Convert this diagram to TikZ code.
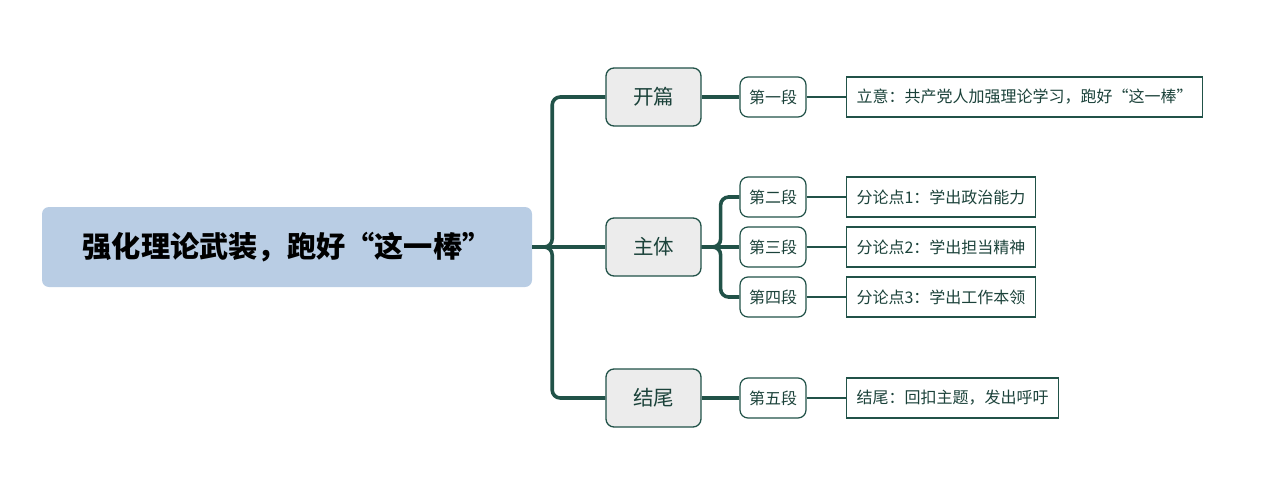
\documentclass[tikz,border=0pt]{standalone}
\usepackage{fontspec}
\setmainfont{Noto Sans CJK SC}
\usepackage{tikz}
\usetikzlibrary{positioning}
\definecolor{rootblue}{RGB}{185,205,228}
\definecolor{branchgreen}{RGB}{33,82,72}
\definecolor{lvlgray}{RGB}{236,236,236}
\tikzset{
  rootbox/.style={fill=rootblue, rounded corners=7pt, inner sep=0pt,
                  minimum width=490pt, minimum height=80pt,
                  font=\fontsize{29.2}{34}\selectfont\bfseries},
  lvlone/.style={fill=lvlgray, draw=branchgreen, line width=1.3pt,
                 rounded corners=8pt, inner sep=0pt,
                 minimum width=95pt, minimum height=58pt,
                 text=branchgreen!80!black, font=\fontsize{20.5}{24}\selectfont},
  lvltwo/.style={fill=white, draw=branchgreen, line width=1.2pt,
                 rounded corners=8pt, inner sep=0pt,
                 minimum width=66pt, minimum height=40pt,
                 text=branchgreen!80!black, font=\fontsize{16}{19}\selectfont},
  notebox/.style={fill=white, draw=branchgreen, line width=1.2pt,
                  inner sep=0pt, inner xsep=10pt, minimum height=40pt,
                  anchor=west, text=branchgreen!80!black,
                  font=\fontsize{16}{19}\selectfont},
  trunk/.style={draw=branchgreen, line width=3.6pt, rounded corners=8pt},
  twig/.style={draw=branchgreen, line width=1.1pt},
}
\begin{document}
\begin{tikzpicture}[x=1pt, y=-1pt]
  \useasboundingbox (0,0) rectangle (1268,487);

  % root
  \node[rootbox] (root) at (287,247) {强化理论武装，跑好“这一棒”};

  % first level
  \node[lvlone] (kaipian) at (653.5,97)  {开篇};
  \node[lvlone] (zhuti)   at (653.5,247) {主体};
  \node[lvlone] (jiewei)  at (653.5,398) {结尾};

  % second level
  \node[lvltwo] (p1) at (773,97)  {第一段};
  \node[lvltwo] (p2) at (773,197) {第二段};
  \node[lvltwo] (p3) at (773,247) {第三段};
  \node[lvltwo] (p4) at (773,297) {第四段};
  \node[lvltwo] (p5) at (773,398) {第五段};

  % notes
  \node[notebox] (d1) at (846,97)  {立意：共产党人加强理论学习，跑好“这一棒”};
  \node[notebox] (d2) at (846,197) {分论点1：学出政治能力};
  \node[notebox] (d3) at (846,247) {分论点2：学出担当精神};
  \node[notebox] (d4) at (846,297) {分论点3：学出工作本领};
  \node[notebox] (d5) at (846,398) {结尾：回扣主题，发出呼吁};

  % root to first level
  \draw[trunk] (root.east) -- ++(20,0) |- (kaipian.west);
  \draw[trunk] (root.east) -- (zhuti.west);
  \draw[trunk] (root.east) -- ++(20,0) |- (jiewei.west);

  % first to second level
  \draw[trunk] (kaipian.east) -- (p1.west);
  \draw[trunk] (zhuti.east) -- ++(19,0) |- (p2.west);
  \draw[trunk] (zhuti.east) -- (p3.west);
  \draw[trunk] (zhuti.east) -- ++(19,0) |- (p4.west);
  \draw[trunk] (jiewei.east) -- (p5.west);

  % second level to notes
  \foreach \i in {1,...,5}{
    \draw[twig] (p\i.east) -- (d\i.west);
  }
\end{tikzpicture}
\end{document}
